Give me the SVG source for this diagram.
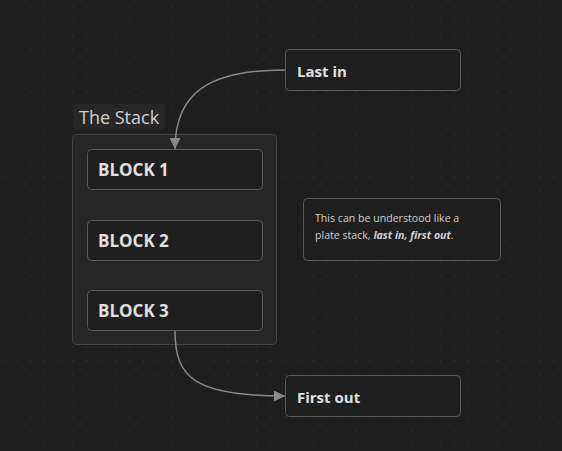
<svg xmlns="http://www.w3.org/2000/svg" width="562" height="451" viewBox="0 0 562 451">
<defs>
<pattern id="dots" x="1.5" y="6.5" width="14.14" height="14.14" patternUnits="userSpaceOnUse">
<rect x="0" y="0" width="1.2" height="1.2" fill="#333333"/>
</pattern>
<marker id="arrow" viewBox="0 0 10 10" refX="10" refY="5" markerWidth="11" markerHeight="11" markerUnits="userSpaceOnUse" orient="auto">
<path d="M0,0 L10,5 L0,10 Z" fill="#8a8a8a"/>
</marker>
<style>
.node{fill:#1f1f1f;stroke:#5a5a5a;stroke-width:1}
.lbl{font-family:"Open Sans","Noto Sans",sans-serif;font-weight:700;fill:#e0e0e0}
.edge{fill:none;stroke:#8a8a8a;stroke-width:1.5}
</style>
</defs>
<rect width="562" height="451" fill="#1e1e1e"/>
<rect width="562" height="451" fill="url(#dots)"/>
<g id="group-stack">
<rect x="73" y="104" width="92" height="26" rx="3" fill="#272727"/>
<text x="79" y="124" font-family="'Open Sans','Noto Sans',sans-serif" font-size="18" fill="#cfcfcf">The Stack</text>
<rect x="72.5" y="134.5" width="204" height="210" rx="4" fill="#262626" stroke="#464646"/>
</g>
<g id="block1">
<rect class="node" x="87.5" y="149.5" width="175" height="40" rx="4"/>
<text class="lbl" x="98" y="176" font-size="17">BLOCK 1</text>
</g>
<g id="block2">
<rect class="node" x="87.5" y="220.5" width="175" height="40" rx="4"/>
<text class="lbl" x="98" y="247" font-size="17">BLOCK 2</text>
</g>
<g id="block3">
<rect class="node" x="87.5" y="290.5" width="175" height="40" rx="4"/>
<text class="lbl" x="98" y="317" font-size="17">BLOCK 3</text>
</g>
<g id="last-in">
<rect class="node" x="285.5" y="49.5" width="175" height="41" rx="4"/>
<text class="lbl" x="297" y="77" font-size="15">Last in</text>
</g>
<g id="first-out">
<rect class="node" x="285.5" y="375.5" width="175" height="41" rx="4"/>
<text class="lbl" x="297" y="403" font-size="15">First out</text>
</g>
<g id="note">
<rect class="node" x="303.5" y="198.5" width="197" height="62" rx="4"/>
<text font-family="'Open Sans','Noto Sans',sans-serif" font-size="10.6" fill="#cfcfcf"><tspan x="315" y="222">This can be understood like a</tspan><tspan x="315" y="239">plate stack, <tspan font-weight="700" font-style="italic">last in, first out</tspan>.</tspan></text>
</g>
<g id="connectors">
<path class="edge" d="M285,70 C210,70 175,92 175,149" marker-end="url(#arrow)"/>
<path class="edge" d="M175,331 C175,378 195,396 285,396" marker-end="url(#arrow)"/>
</g>
</svg>
